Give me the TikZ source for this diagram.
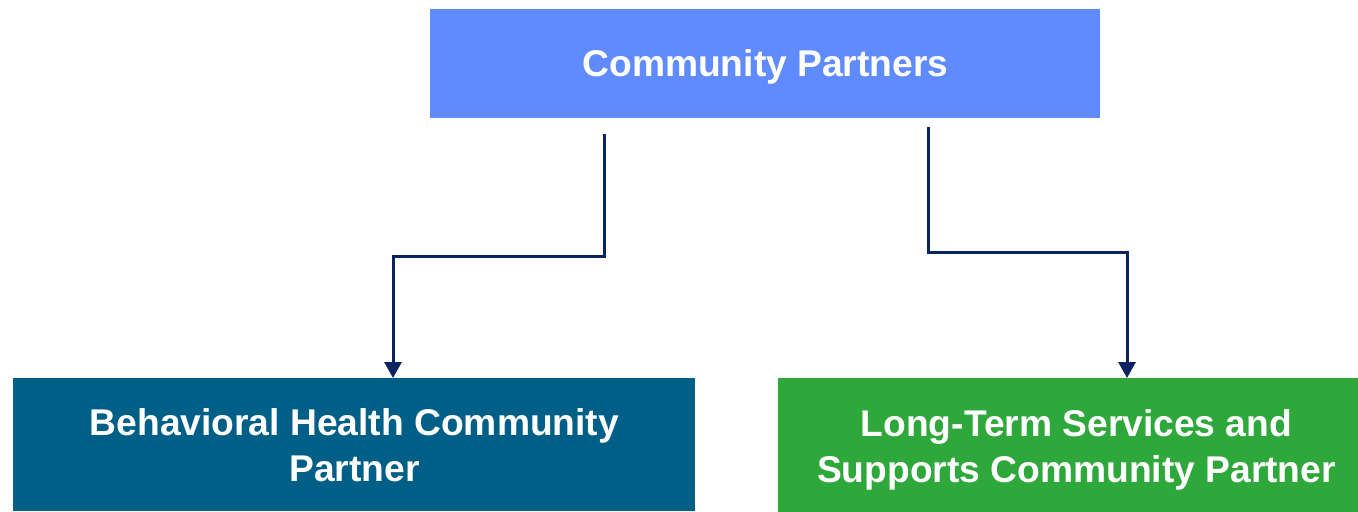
\documentclass[tikz,border=0pt]{standalone}
\usepackage{fontspec}
\setmainfont{Liberation Sans}
\usetikzlibrary{arrows.meta}
\definecolor{topblue}{HTML}{5F8BFF}
\definecolor{bhblue}{HTML}{005F86}
\definecolor{ltgreen}{HTML}{2EA83A}
\definecolor{navy}{HTML}{0B2461}
\tikzset{
  box/.style={anchor=north west, inner sep=0pt, align=center, text=white,
    font=\fontsize{18.6pt}{23pt}\selectfont\bfseries},
  arr/.style={draw=navy, line width=1.5pt,
    -{Triangle[width=8.5pt,length=8pt]}}
}
\begin{document}
\begin{tikzpicture}[x=0.5pt,y=-0.5pt]
\useasboundingbox (0,0) rectangle (1358,511);
\node[box, fill=topblue, minimum width=335pt, minimum height=54.5pt] (top) at (430,9) {\raisebox{-1.5pt}[\height][\depth]{Community Partners}};
\node[box, fill=bhblue, minimum width=341pt, minimum height=66.5pt] (bh) at (13,378) {Behavioral Health Community\\Partner};
\node[box, fill=ltgreen, minimum width=298pt, minimum height=71pt] (lt) at (778,378) {Long-Term Services and\\Supports Community Partner};
\coordinate (s1) at (604,134);
\coordinate (m1) at (604,256);
\coordinate (e1) at (393,378);
\coordinate (s2) at (928,127);
\coordinate (m2) at (928,252);
\coordinate (e2) at (1127,378);
\draw[arr] (s1) -- (m1) -| (bh.north -| e1);
\draw[arr] (s2) -- (m2) -| (lt.north -| e2);
\end{tikzpicture}
\end{document}
